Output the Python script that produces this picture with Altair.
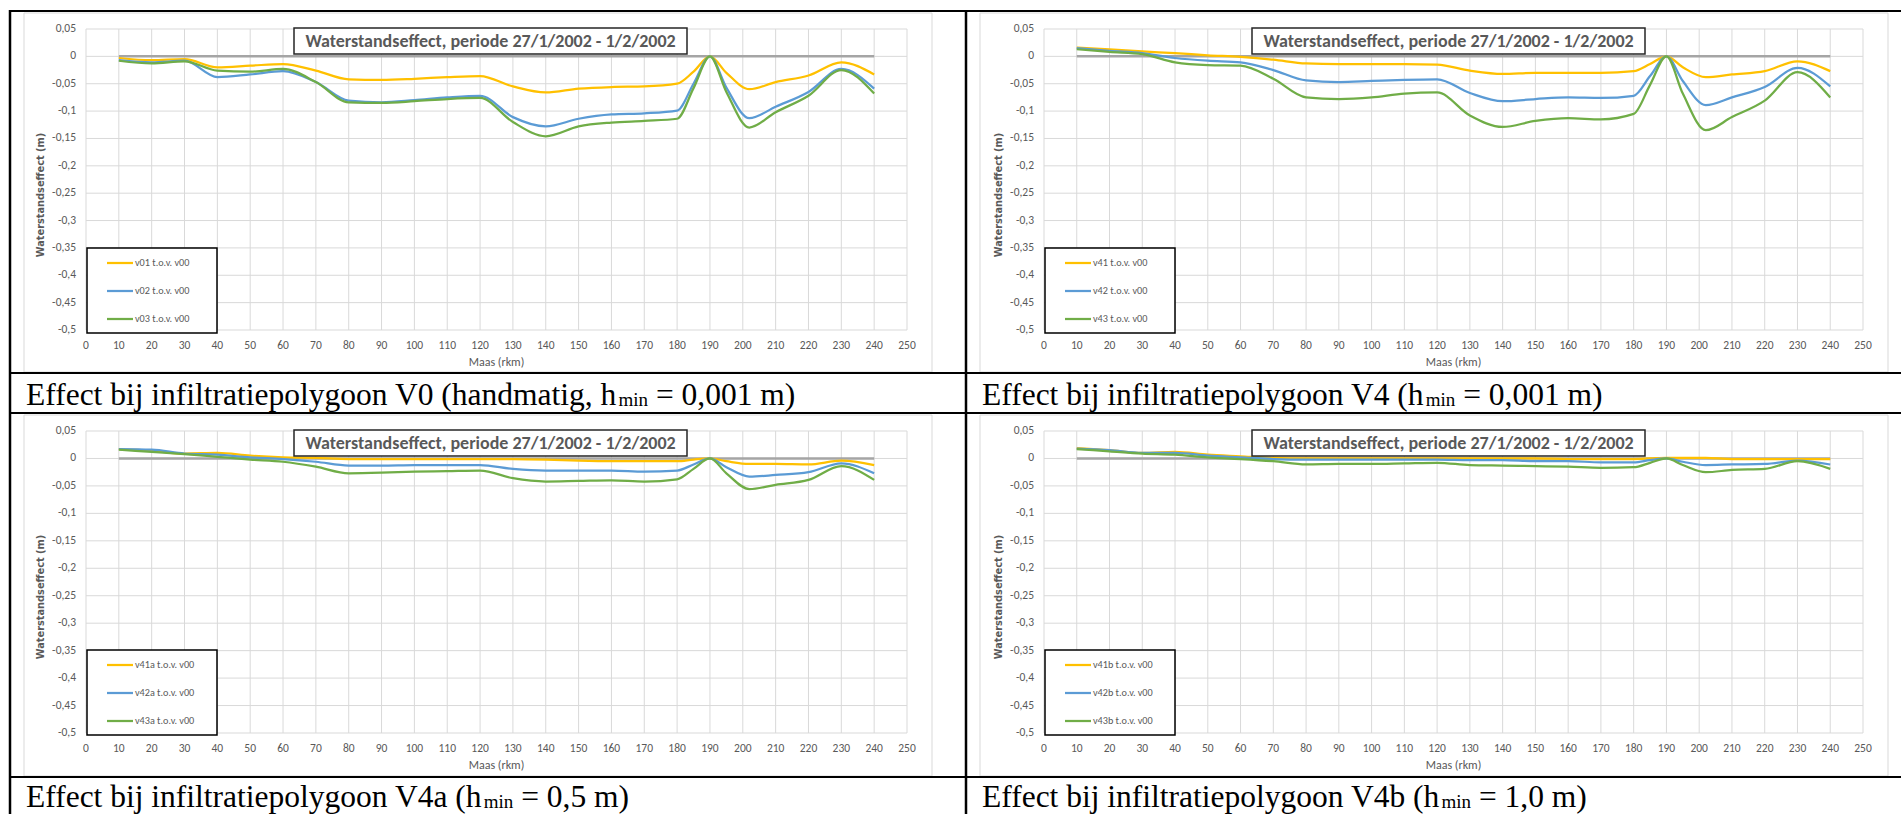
import altair as alt
import pandas as pd

# ---------------- data ----------------
RKM = [10, 20, 30, 40, 50, 60, 70, 80, 90, 100, 110, 120, 130, 140, 150, 160, 170,
       180, 185, 190, 195, 202, 210, 220, 230, 240]

V01 = [-0.003, -0.007, -0.005, -0.020, -0.017, -0.014, -0.026, -0.042, -0.043, -0.041, -0.038,
       -0.036, -0.055, -0.066, -0.059, -0.056, -0.055, -0.050, -0.028, 0.0, -0.030, -0.060,
       -0.047, -0.035, -0.011, -0.033]
V02 = [-0.007, -0.011, -0.008, -0.038, -0.033, -0.027, -0.047, -0.081, -0.084, -0.080, -0.075,
       -0.072, -0.111, -0.128, -0.114, -0.106, -0.104, -0.099, -0.050, 0.0, -0.057, -0.113,
       -0.092, -0.065, -0.023, -0.059]
V03 = [-0.008, -0.013, -0.009, -0.026, -0.028, -0.023, -0.047, -0.084, -0.085, -0.082, -0.078,
       -0.076, -0.120, -0.146, -0.128, -0.121, -0.118, -0.114, -0.058, 0.0, -0.065, -0.130,
       -0.102, -0.072, -0.025, -0.068]

V41 = [0.016, 0.013, 0.009, 0.006, 0.002, -0.001, -0.006, -0.013, -0.014, -0.014, -0.014,
       -0.015, -0.026, -0.032, -0.030, -0.030, -0.030, -0.027, -0.014, 0.0, -0.020, -0.038,
       -0.033, -0.027, -0.009, -0.027]
V42 = [0.015, 0.010, 0.006, -0.003, -0.008, -0.011, -0.025, -0.044, -0.047, -0.045, -0.043,
       -0.042, -0.067, -0.082, -0.078, -0.075, -0.076, -0.072, -0.036, 0.0, -0.045, -0.089,
       -0.075, -0.056, -0.021, -0.055]
V43 = [0.013, 0.008, 0.004, -0.011, -0.016, -0.017, -0.041, -0.075, -0.078, -0.075, -0.068,
       -0.066, -0.108, -0.129, -0.118, -0.113, -0.115, -0.105, -0.052, 0.0, -0.068, -0.135,
       -0.111, -0.081, -0.029, -0.075]

V41A = [0.017, 0.014, 0.009, 0.010, 0.005, 0.002, 0.001, -0.001, -0.001, -0.001, -0.001,
        -0.001, -0.001, -0.002, -0.004, -0.005, -0.005, -0.005, -0.002, 0.0, -0.005, -0.010,
        -0.010, -0.011, -0.004, -0.012]
V42A = [0.017, 0.016, 0.009, 0.007, 0.002, -0.001, -0.006, -0.013, -0.013, -0.012, -0.012,
        -0.012, -0.019, -0.022, -0.022, -0.022, -0.024, -0.022, -0.011, 0.0, -0.016, -0.033,
        -0.030, -0.025, -0.009, -0.027]
V43A = [0.016, 0.012, 0.008, 0.003, -0.002, -0.006, -0.015, -0.027, -0.026, -0.024, -0.023,
        -0.022, -0.036, -0.042, -0.041, -0.040, -0.042, -0.038, -0.019, 0.0, -0.027, -0.056,
        -0.048, -0.039, -0.014, -0.039]

V41B = [0.019, 0.015, 0.010, 0.012, 0.007, 0.004, 0.001, 0.000, 0.000, 0.000, 0.000,
        0.000, 0.000, 0.000, 0.000, -0.001, -0.001, -0.001, 0.000, 0.001, 0.001, 0.001,
        -0.001, -0.001, -0.001, -0.001]
V42B = [0.018, 0.015, 0.010, 0.010, 0.005, 0.002, -0.001, -0.002, -0.002, -0.002, -0.002,
        -0.002, -0.003, -0.003, -0.005, -0.005, -0.007, -0.007, -0.003, 0.0, -0.006, -0.012,
        -0.011, -0.010, -0.004, -0.011]
V43B = [0.017, 0.013, 0.009, 0.007, 0.002, -0.001, -0.005, -0.011, -0.010, -0.010, -0.009,
        -0.008, -0.012, -0.013, -0.014, -0.015, -0.017, -0.016, -0.008, 0.0, -0.012, -0.025,
        -0.021, -0.019, -0.005, -0.019]

ZERO_X = [10, 240]
ZERO_Y = [0.0, 0.0]

X_TICKS = [0, 10, 20, 30, 40, 50, 60, 70, 80, 90, 100, 110, 120, 130, 140, 150, 160, 170,
           180, 190, 200, 210, 220, 230, 240, 250]
X_LABELS = [str(v) for v in X_TICKS]
Y_TICKS = [0.05, 0.0, -0.05, -0.1, -0.15, -0.2, -0.25, -0.3, -0.35, -0.4, -0.45, -0.5]
Y_LABELS = ["0,05", "0", "-0,05", "-0,1", "-0,15", "-0,2", "-0,25", "-0,3", "-0,35", "-0,4",
            "-0,45", "-0,5"]

TITLE = "Waterstandseffect, periode 27/1/2002 - 1/2/2002"
Y_TITLE = "Waterstandseffect (m)"
X_TITLE = "Maas (rkm)"
COLORS = ["#FFC000", "#5B9BD5", "#70AD47"]

SANS = "Carlito, Calibri, Lato, sans-serif"
SERIF = "Liberation Serif"
CAP_SIZE = 31.5
SUB_SIZE = 19

PANELS = [
    dict(names=["v01 t.o.v. v00", "v02 t.o.v. v00", "v03 t.o.v. v00"], vals=[V01, V02, V03],
         cap=["Effect bij infiltratiepolygoon V0 (handmatig, h", "min", "= 0,001 m)"],
         px0=86, px1=907, py0=29, py1=330, cx=26, cy=405, ax0=24, ax1=932, ay0=13, ay1=372),
    dict(names=["v41 t.o.v. v00", "v42 t.o.v. v00", "v43 t.o.v. v00"], vals=[V41, V42, V43],
         cap=["Effect bij infiltratiepolygoon V4 (h", "min", "= 0,001 m)"],
         px0=1044, px1=1863, py0=29, py1=330, cx=982, cy=405, ax0=980, ax1=1888, ay0=13, ay1=372),
    dict(names=["v41a t.o.v. v00", "v42a t.o.v. v00", "v43a t.o.v. v00"], vals=[V41A, V42A, V43A],
         cap=["Effect bij infiltratiepolygoon V4a (h", "min", "= 0,5 m)"],
         px0=86, px1=907, py0=431, py1=733, cx=26, cy=807, ax0=24, ax1=932, ay0=415, ay1=776),
    dict(names=["v41b t.o.v. v00", "v42b t.o.v. v00", "v43b t.o.v. v00"], vals=[V41B, V42B, V43B],
         cap=["Effect bij infiltratiepolygoon V4b (h", "min", "= 1,0 m)"],
         px0=1044, px1=1863, py0=431, py1=733, cx=982, cy=807, ax0=980, ax1=1888, ay0=415, ay1=776),
]

# approximate Times/Liberation Serif advance widths (per 1000 em) for caption layout
TW = {' ': 250, '(': 333, ')': 333, ',': 250, '=': 564, 'E': 611, 'V': 722,
      'a': 444, 'b': 500, 'c': 444, 'd': 500, 'e': 444, 'f': 333, 'g': 500, 'h': 500,
      'i': 278, 'j': 278, 'l': 278, 'm': 778, 'n': 500, 'o': 500, 'p': 500, 'r': 333,
      't': 278, 'y': 500}


def tw(s, size):
    return sum(TW.get(ch, 500) for ch in s) * size / 1000.0


ONE = pd.DataFrame({"k": [0]})


def deco_rect(x0, x1, y0, y1, fill, stroke, sw):
    return alt.Chart(ONE).mark_rect(fill=fill, stroke=stroke, strokeWidth=sw).encode(
        x=alt.value(x0), x2=alt.value(x1), y=alt.value(y0), y2=alt.value(y1))


def label(text, x, y, **kw):
    return alt.Chart(pd.DataFrame({"t": [text]})).mark_text(**kw).encode(
        text="t:N", x=alt.value(x), y=alt.value(y))


def panel(p):
    xs = alt.Scale(domain=[0, 250], range=[p["px0"], p["px1"]], nice=False, zero=False)
    ys = alt.Scale(domain=[-0.5, 0.05], range=[p["py1"], p["py0"]], nice=False, zero=False)
    L = []
    # chart area
    L.append(deco_rect(p["ax0"], p["ax1"], p["ay0"], p["ay1"], "white", "#d9d9d9", 1))
    # gridlines
    xt = pd.DataFrame({"v": X_TICKS, "lab": X_LABELS})
    yt = pd.DataFrame({"v": Y_TICKS, "lab": Y_LABELS})
    L.append(alt.Chart(xt).mark_rule(color="#d9d9d9", strokeWidth=1).encode(
        x=alt.X("v:Q", scale=xs, axis=None),
        y=alt.Y(datum=-0.5, scale=ys, axis=None), y2=alt.Y2(datum=0.05)))
    L.append(alt.Chart(yt).mark_rule(color="#d9d9d9", strokeWidth=1).encode(
        y=alt.Y("v:Q", scale=ys, axis=None),
        x=alt.X(datum=0, scale=xs, axis=None), x2=alt.X2(datum=250)))
    # tick labels
    L.append(alt.Chart(xt).mark_text(align="center", baseline="middle", font=SANS,
                                      fontSize=11.5, color="#595959").encode(
        x=alt.X("v:Q", scale=xs, axis=None), y=alt.value(p["py1"] + 16), text="lab:N"))
    L.append(alt.Chart(yt).mark_text(align="right", baseline="middle", font=SANS,
                                      fontSize=11.5, color="#595959").encode(
        y=alt.Y("v:Q", scale=ys, axis=None), x=alt.value(p["px0"] - 10), text="lab:N"))
    # axis titles
    L.append(label(Y_TITLE, p["px0"] - 45, p["py0"] + 166, angle=270, align="center",
                   baseline="middle", font="DejaVu Sans", fontSize=9.8, fontWeight="bold",
                   color="#595959"))
    L.append(label(X_TITLE, (p["px0"] + p["px1"]) / 2, p["py1"] + 32, align="center",
                   baseline="middle", font=SANS, fontSize=12, color="#595959"))
    # zero reference line
    zdf = pd.DataFrame({"x": ZERO_X, "y": ZERO_Y})
    L.append(alt.Chart(zdf).mark_line(color="#a5a5a5", strokeWidth=2.5).encode(
        x=alt.X("x:Q", scale=xs, axis=None), y=alt.Y("y:Q", scale=ys, axis=None)))
    # series
    for vals, col in zip(p["vals"], COLORS):
        df = pd.DataFrame({"x": RKM, "y": vals})
        L.append(alt.Chart(df).mark_line(color=col, strokeWidth=2.25,
                                         interpolate="monotone").encode(
            x=alt.X("x:Q", scale=xs, axis=None), y=alt.Y("y:Q", scale=ys, axis=None)))
    # chart title box
    L.append(deco_rect(p["px0"] + 208, p["px0"] + 601, p["py0"] - 1, p["py0"] + 25,
                       "white", "#262626", 1.5))
    L.append(label(TITLE, p["px0"] + 404.5, p["py0"] + 12.5, align="center",
                   baseline="middle", font=SANS, fontSize=18, fontWeight="bold",
                   color="#595959"))
    # legend
    L.append(deco_rect(p["px0"] + 1, p["px0"] + 131, p["py0"] + 219, p["py0"] + 304,
                       "white", "#000000", 1.5))
    for i, (name, col) in enumerate(zip(p["names"], COLORS)):
        yy = p["py0"] + 234 + i * 28
        L.append(alt.Chart(ONE).mark_rule(color=col, strokeWidth=2.25).encode(
            x=alt.value(p["px0"] + 21), x2=alt.value(p["px0"] + 47), y=alt.value(yy)))
        L.append(label(name, p["px0"] + 49, yy, align="left", baseline="middle",
                       font=SANS, fontSize=10.2, color="#595959"))
    # caption (main text, subscript "min", rest)
    a, sub, c = p["cap"]
    xa = p["cx"]
    xs_ = xa + tw(a, CAP_SIZE) + 1
    xc = xs_ + tw(sub, SUB_SIZE) + tw(" ", CAP_SIZE)
    L.append(label(a, xa, p["cy"], align="left", baseline="alphabetic", font=SERIF,
                   fontSize=CAP_SIZE, color="#000000"))
    L.append(label(sub, xs_, p["cy"] + 1, align="left", baseline="alphabetic", font=SERIF,
                   fontSize=SUB_SIZE, color="#000000"))
    L.append(label(c, xc, p["cy"], align="left", baseline="alphabetic", font=SERIF,
                   fontSize=CAP_SIZE, color="#000000"))
    return alt.layer(*L)


# table borders
TABLE = []
for yy in [11, 373, 413, 777]:
    TABLE.append(alt.Chart(ONE).mark_rule(color="#000000", strokeWidth=2).encode(
        x=alt.value(9), x2=alt.value(1901), y=alt.value(yy)))
for xx in [10, 966]:
    TABLE.append(alt.Chart(ONE).mark_rule(color="#000000", strokeWidth=2.5).encode(
        x=alt.value(xx), y=alt.value(10), y2=alt.value(814)))

chart = alt.layer(*[panel(p) for p in PANELS], *TABLE).resolve_scale(
    x="independent", y="independent"
).properties(
    width=1901, height=814, padding=0, autosize=alt.AutoSizeParams(type="none"),
    background="white"
).configure_view(stroke=None)

chart.save("out.html", embed_options={"renderer": "svg", "actions": False})
